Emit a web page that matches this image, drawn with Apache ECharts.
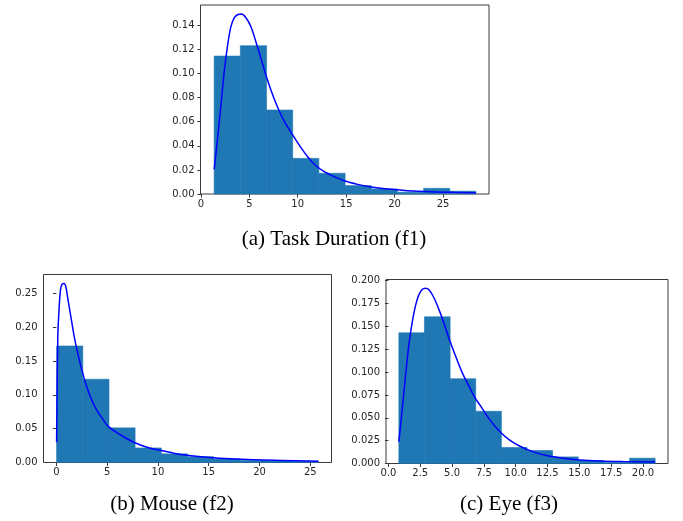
<!DOCTYPE html>
<html>
<head>
<meta charset="utf-8">
<script src="https://cdn.jsdelivr.net/npm/echarts@6/dist/echarts.min.js"></script>
<style>
html,body{margin:0;padding:0;background:#fff;}
#main{width:683px;height:521px;}
</style>
</head>
<body>
<div id="main"></div>
<script>
// (a) Task Duration (f1)
var taskEdges = [1.37, 4.07, 6.78, 9.48, 12.18, 14.89, 17.59, 20.29, 23.0, 25.7, 28.4];
var taskHeights = [0.1145, 0.1231, 0.0697, 0.0296, 0.0172, 0.0070, 0.0042, 0.0015, 0.0047, 0.0023];
var taskFitX = [1.37, 1.65, 2.07, 2.41, 2.76, 3.10, 3.44, 3.85, 4.20, 4.65, 5.17, 5.68, 6.20, 6.71, 7.23, 7.75, 8.26, 8.78, 9.30, 9.64, 10.33, 11.02, 11.71, 12.74, 13.77, 14.80, 16.19, 17.56, 19.28, 21.35, 23.76, 26.17, 28.40];
var taskFitY = [0.0205, 0.0407, 0.0738, 0.1015, 0.1236, 0.1389, 0.1463, 0.1490, 0.1494, 0.1463, 0.1389, 0.1264, 0.1126, 0.0988, 0.0863, 0.0753, 0.0660, 0.0580, 0.0512, 0.0470, 0.0385, 0.0310, 0.0247, 0.0185, 0.0144, 0.0110, 0.0080, 0.0058, 0.0041, 0.0028, 0.0019, 0.0014, 0.0011];
var taskXTicks = [0, 5, 10, 15, 20, 25];
var taskYTicks = [0, 0.02, 0.04, 0.06, 0.08, 0.10, 0.12, 0.14];

// (b) Mouse (f2)
var mouseEdges = [0.02, 2.60, 5.18, 7.75, 10.33, 12.91, 15.49, 18.07, 20.65, 23.22, 25.80];
var mouseHeights = [0.1722, 0.1231, 0.0512, 0.0215, 0.0128, 0.0085, 0.0052, 0.0030, 0.0022, 0.0018];
var mouseFitX = [0.02, 0.06, 0.14, 0.24, 0.40, 0.56, 0.76, 0.93, 1.15, 1.48, 1.81, 2.14, 2.47, 2.96, 3.46, 3.95, 4.61, 5.13, 6.29, 7.67, 8.92, 10.30, 11.55, 12.87, 14.84, 17.14, 19.44, 22.07, 25.80];
var mouseFitY = [0.030, 0.090, 0.186, 0.2205, 0.2549, 0.2637, 0.2647, 0.2597, 0.240, 0.2106, 0.182, 0.159, 0.139, 0.113, 0.093, 0.078, 0.063, 0.053, 0.041, 0.0295, 0.0226, 0.0177, 0.0138, 0.0108, 0.0079, 0.0054, 0.0039, 0.0030, 0.0020];
var mouseXTicks = [0, 5, 10, 15, 20, 25];
var mouseYTicks = [0, 0.05, 0.10, 0.15, 0.20, 0.25];

// (c) Eye (f3)
var eyeEdges = [0.82, 2.83, 4.85, 6.86, 8.88, 10.89, 12.90, 14.92, 16.93, 18.95, 20.96];
var eyeHeights = [0.1429, 0.1604, 0.0927, 0.0571, 0.0175, 0.0142, 0.0072, 0.0033, 0.0012, 0.0058];
var eyeFitX = [0.82, 1.09, 1.35, 1.60, 1.87, 2.13, 2.39, 2.65, 2.91, 3.17, 3.56, 3.95, 4.34, 4.73, 5.26, 5.78, 6.30, 6.82, 7.21, 8.00, 8.78, 9.56, 10.34, 11.39, 12.43, 13.73, 15.04, 16.60, 18.43, 20.96];
var eyeFitY = [0.0236, 0.060, 0.0963, 0.129, 0.1545, 0.1727, 0.1844, 0.1902, 0.1916, 0.1902, 0.1818, 0.1691, 0.1545, 0.1381, 0.1182, 0.0999, 0.0854, 0.0716, 0.0636, 0.0472, 0.0345, 0.0254, 0.0189, 0.0127, 0.0087, 0.0058, 0.0039, 0.0028, 0.0022, 0.0017];
var eyeXTicks = [0, 2.5, 5, 7.5, 10, 12.5, 15, 17.5, 20];
var eyeYTicks = [0, 0.025, 0.05, 0.075, 0.10, 0.125, 0.15, 0.175, 0.20];

var captions = ['(a) Task Duration (f1)', '(b) Mouse (f2)', '(c) Eye (f3)'];

var histColor = '#1f77b4';
var fitColor = '#0000ff';
var frameColor = '#3a3a3a';

//直方图的矩形
var binData = function (edges, heights) {
    var out = [];
    heights.forEach(function (h, i) {
        out.push([edges[i], edges[i + 1], h]);
    });
    return out;
};

var pairData = function (xs, ys) {
    return xs.map(function (x, i) { return [x, ys[i]]; });
};

var renderBin = function (params, api) {
    var p0 = api.coord([api.value(0), api.value(2)]);
    var p1 = api.coord([api.value(1), 0]);
    return {
        type: 'rect',
        shape: { x: p0[0], y: p0[1], width: p1[0] - p0[0], height: p1[1] - p0[1] },
        style: { fill: histColor, stroke: histColor, lineWidth: 0.6 }
    };
};

var xAxisOf = function (idx, min, max, ticks, digits) {
    return {
        type: 'value', gridIndex: idx, min: min, max: max,
        axisLine: { show: false },
        splitLine: { show: false },
        axisTick: { show: true, inside: false, length: 3.5, customValues: ticks, lineStyle: { color: frameColor, width: 1 } },
        axisLabel: {
            customValues: ticks, margin: 5, color: '#262626', fontFamily: 'DejaVu Sans', fontSize: 10,
            formatter: function (v) { return v.toFixed(digits); }
        }
    };
};

var yAxisOf = function (idx, max, ticks, digits) {
    return {
        type: 'value', gridIndex: idx, min: 0, max: max,
        axisLine: { show: false },
        splitLine: { show: false },
        axisTick: { show: true, inside: false, length: 3.5, customValues: ticks, lineStyle: { color: frameColor, width: 1 } },
        axisLabel: {
            customValues: ticks, margin: 6, color: '#262626', fontFamily: 'DejaVu Sans', fontSize: 10,
            formatter: function (v) { return v.toFixed(digits); }
        }
    };
};

var gridOf = function (left, top, width, height) {
    return { left: left, top: top, width: width, height: height, show: true,
        borderColor: frameColor, borderWidth: 1, backgroundColor: 'transparent' };
};

var histSeries = function (idx, edges, heights) {
    return { type: 'custom', xAxisIndex: idx, yAxisIndex: idx, renderItem: renderBin,
        encode: { x: [0, 1], y: 2 }, data: binData(edges, heights), silent: true, z: 2 };
};

var fitSeries = function (idx, xs, ys) {
    return { type: 'line', xAxisIndex: idx, yAxisIndex: idx, data: pairData(xs, ys),
        showSymbol: false, smooth: 0.35,
        lineStyle: { color: fitColor, width: 1.5 }, silent: true, z: 3 };
};

var captionText = function (text, x, y) {
    return { type: 'text', x: x, y: y,
        style: { text: text, fill: '#000', font: '21px "Liberation Serif"', textAlign: 'center', textVerticalAlign: 'middle' } };
};

var myChart = echarts.init(document.getElementById('main'), null, { renderer: 'canvas' });

var options = {
    animation: false,
    grid: [
        gridOf(200.5, 5, 288.5, 189),
        gridOf(43.5, 274.5, 288, 188),
        gridOf(386, 279.5, 282, 184)
    ],
    xAxis: [
        xAxisOf(0, -0.04, 29.75, taskXTicks, 0),
        xAxisOf(1, -1.27, 27.09, mouseXTicks, 0),
        xAxisOf(2, -0.19, 21.97, eyeXTicks, 1)
    ],
    yAxis: [
        yAxisOf(0, 0.1569, taskYTicks, 2),
        yAxisOf(1, 0.2779, mouseYTicks, 2),
        yAxisOf(2, 0.2012, eyeYTicks, 3)
    ],
    series: [
        histSeries(0, taskEdges, taskHeights),
        fitSeries(0, taskFitX, taskFitY),
        histSeries(1, mouseEdges, mouseHeights),
        fitSeries(1, mouseFitX, mouseFitY),
        histSeries(2, eyeEdges, eyeHeights),
        fitSeries(2, eyeFitX, eyeFitY)
    ],
    graphic: [
        captionText(captions[0], 334, 239),
        captionText(captions[1], 172, 504),
        captionText(captions[2], 509, 504)
    ]
};

myChart.setOption(options);
</script>
</body>
</html>
